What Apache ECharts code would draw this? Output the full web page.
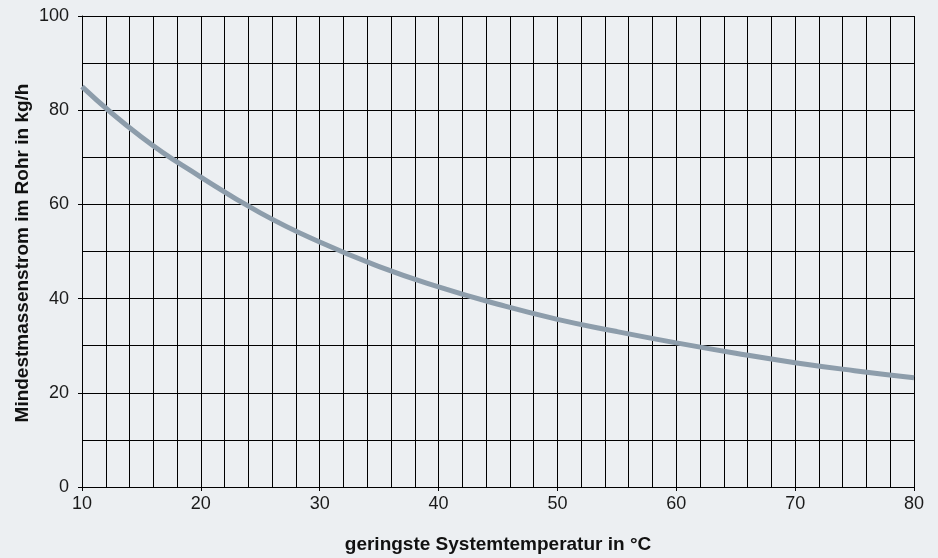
<!DOCTYPE html>
<html><head><meta charset="utf-8">
<script src="https://cdn.jsdelivr.net/npm/echarts@6/dist/echarts.min.js"></script>
<style>html,body{margin:0;padding:0;background:#eceff2;}#c{width:938px;height:558px;}</style>
</head><body><div id="c"></div>
<script>
const temps = [10, 15, 20, 25, 30, 35, 40, 45, 50, 55, 60, 65, 70, 75, 80];
const flows = [85, 74.3, 65.8, 58.2, 52, 46.8, 42.5, 38.8, 35.6, 33, 30.6, 28.4, 26.4, 24.7, 23.2];
const xTitle = 'geringste Systemtemperatur in °C';
const yTitle = 'Mindestmassenstrom im Rohr in kg/h';

const chart = echarts.init(document.getElementById('c'));
const font = 'Liberation Sans, Arial, sans-serif';
chart.setOption({
  backgroundColor: '#eceff2',
  animation: false,
  grid: {left: 82, right: 24, top: 16, bottom: 71},
  xAxis: {
    type: 'value', min: 10, max: 80, interval: 10,
    axisLine: {show: true, lineStyle: {color: '#000', width: 1}},
    axisTick: {show: true, length: 4, lineStyle: {color: '#000'}},
    axisLabel: {color: '#1a1a1a', fontSize: 18, fontFamily: font, margin: 8},
    splitLine: {show: true, lineStyle: {color: '#000', width: 1}},
    minorTick: {show: false, splitNumber: 5},
    minorSplitLine: {show: true, lineStyle: {color: '#000', width: 1}}
  },
  yAxis: {
    type: 'value', min: 0, max: 100, interval: 20,
    axisLine: {show: true, lineStyle: {color: '#000', width: 1}},
    axisTick: {show: true, length: 4, lineStyle: {color: '#000'}},
    axisLabel: {color: '#1a1a1a', fontSize: 18, fontFamily: font, margin: 13},
    splitLine: {show: true, lineStyle: {color: '#000', width: 1}},
    minorTick: {show: false, splitNumber: 2},
    minorSplitLine: {show: true, lineStyle: {color: '#000', width: 1}}
  },
  graphic: [
    {type: 'text', x: 498, y: 545, style: {text: xTitle, font: 'bold 19px ' + font, fill: '#111', align: 'center', verticalAlign: 'middle'}},
    {type: 'text', x: 23, y: 253, rotation: Math.PI / 2, style: {text: yTitle, font: 'bold 19px ' + font, fill: '#111', align: 'center', verticalAlign: 'middle'}}
  ],
  series: [{
    type: 'line', smooth: true, showSymbol: false,
    data: temps.map((t, i) => [t, flows[i]]),
    lineStyle: {color: '#8d9dab', width: 5}
  }]
});
</script></body></html>
